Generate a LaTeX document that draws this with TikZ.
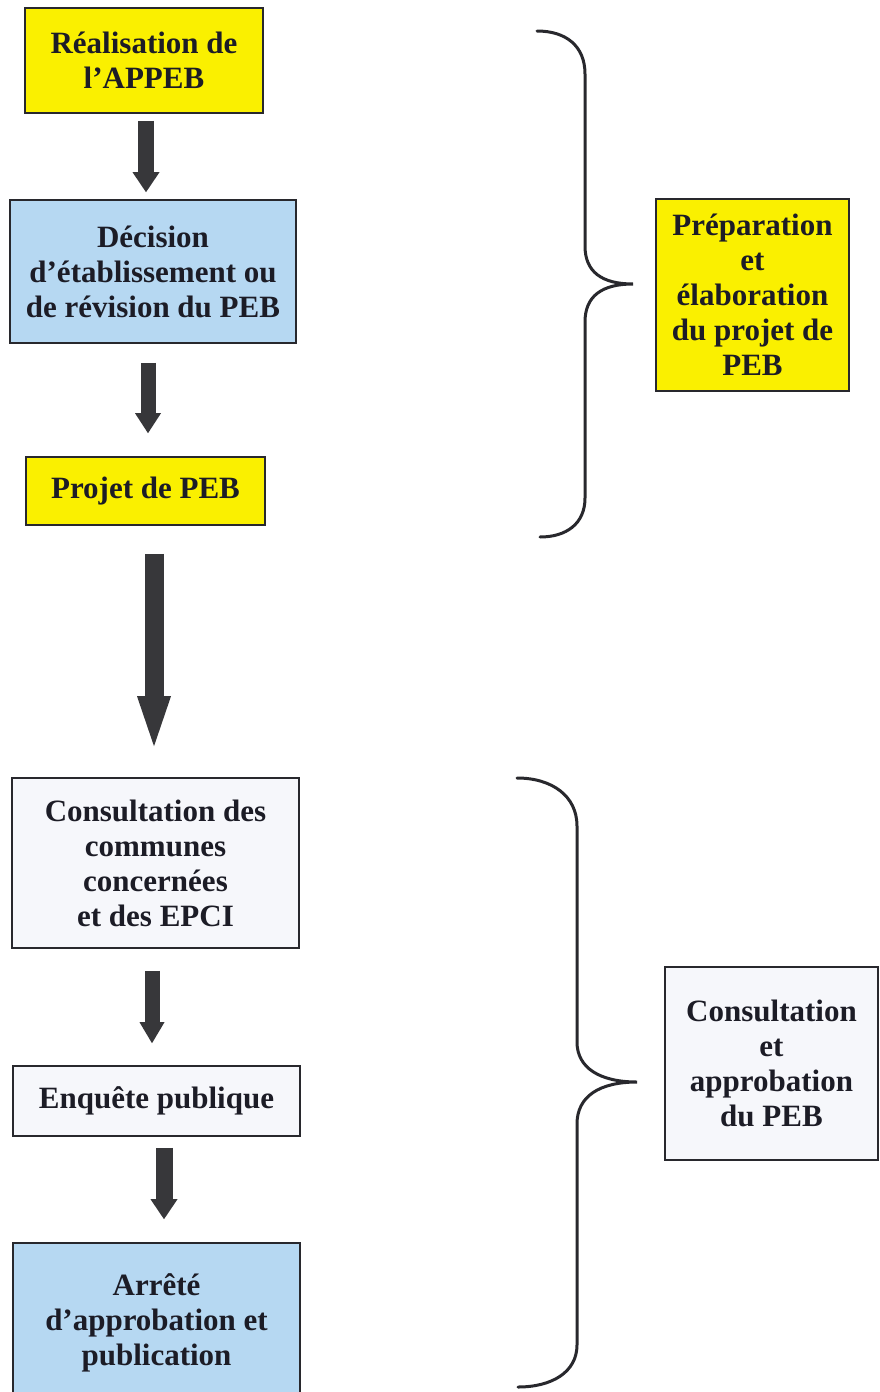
\documentclass[tikz,border=0pt]{standalone}
\usepackage{fontspec}
\setmainfont{Liberation Serif}
\usetikzlibrary{arrows.meta}
\definecolor{boxyellow}{RGB}{250,240,0}
\definecolor{boxblue}{RGB}{182,216,242}
\definecolor{boxwhite}{RGB}{246,247,251}
\definecolor{inkcol}{RGB}{28,28,38}
\definecolor{edgecol}{RGB}{40,40,45}
\definecolor{arrowcol}{RGB}{55,55,58}
\tikzset{
  stepbox/.style={draw=edgecol, line width=1.6pt, align=center, inner sep=0pt,
    text=inkcol, font=\fontsize{31}{35}\selectfont\bfseries},
  yellowbox/.style={stepbox, fill=boxyellow},
  bluebox/.style={stepbox, fill=boxblue},
  whitebox/.style={stepbox, fill=boxwhite},
  blockarrow/.style={draw=arrowcol, line width=#1, line cap=butt},
  bracecurve/.style={draw=edgecol, line width=3pt, line cap=round}
}
\begin{document}
\begin{tikzpicture}[x=1pt, y=-1pt]
\useasboundingbox (0,0) rectangle (879,1392);
\fill[white] (0,0) rectangle (879,1392);

% left column boxes
\node[yellowbox, minimum width=238pt, minimum height=105pt] (b1) at (144,60.5)
  {Réalisation de\\l’APPEB};
\node[bluebox, minimum width=286pt, minimum height=143pt] (b2) at (153,271.5)
  {Décision\\d’établissement ou\\de révision du PEB};
\node[yellowbox, minimum width=239pt, minimum height=68pt] (b3) at (145.5,491)
  {Projet de PEB};
\node[whitebox, minimum width=287pt, minimum height=170pt] (b4) at (155.5,863)
  {Consultation des\\communes\\concernées\\et des EPCI};
\node[whitebox, minimum width=287pt, minimum height=70pt] (b5) at (156.5,1101)
  {Enquête publique};
\node[bluebox, minimum width=287pt, minimum height=160pt] (b6) at (156.5,1323)
  {Arrêté\\d’approbation et\\publication};

% right column boxes
\node[yellowbox, minimum width=193pt, minimum height=192pt] (r1) at (752.5,295)
  {Préparation\\et\\élaboration\\du projet de\\PEB};
\node[whitebox, minimum width=213pt, minimum height=193pt] (r2) at (771.5,1063.5)
  {Consultation\\et\\approbation\\du PEB};

% block arrows
\draw[blockarrow=16pt, -{Triangle[width=27pt,length=20pt,line width=0pt]},
      shorten <=7pt, shorten >=7pt]
  ([xshift=2pt]b1.south) -- ([xshift=-7pt]b2.north);
\draw[blockarrow=15pt, -{Triangle[width=26pt,length=20pt,line width=0pt]},
      shorten <=19pt, shorten >=23pt]
  ([xshift=-5pt]b2.south) -- ([xshift=2.5pt]b3.north);
\draw[blockarrow=19pt, -{Triangle[width=34pt,length=50pt,line width=0pt]},
      shorten <=28pt, shorten >=31pt]
  ([xshift=8.5pt]b3.south) -- ([xshift=-1.5pt]b4.north);
\draw[blockarrow=15pt, -{Triangle[width=25pt,length=21pt,line width=0pt]},
      shorten <=22pt, shorten >=22pt]
  ([xshift=-3.5pt]b4.south) -- ([xshift=-4.5pt]b5.north);
\draw[blockarrow=17pt, -{Triangle[width=27pt,length=20pt,line width=0pt]},
      shorten <=11pt, shorten >=23pt]
  ([xshift=7.5pt]b5.south) -- ([xshift=7.5pt]b6.north);

% braces
\draw[bracecurve] (537,31) .. controls (566,31) and (585,46) .. (585,74)
  -- (585,246) .. controls (585,272) and (602,284) .. (633,284)
  .. controls (602,284) and (585,296) .. (585,322)
  -- (585,498) .. controls (585,524) and (566,537) .. (540,537);
\draw[bracecurve] (517,778) .. controls (552,778) and (577,796) .. (577,826)
  -- (577,1042) .. controls (577,1068) and (600,1082) .. (637,1082)
  .. controls (600,1082) and (577,1096) .. (577,1124)
  -- (577,1345) .. controls (577,1372) and (552,1387) .. (518,1387);
\end{tikzpicture}
\end{document}
